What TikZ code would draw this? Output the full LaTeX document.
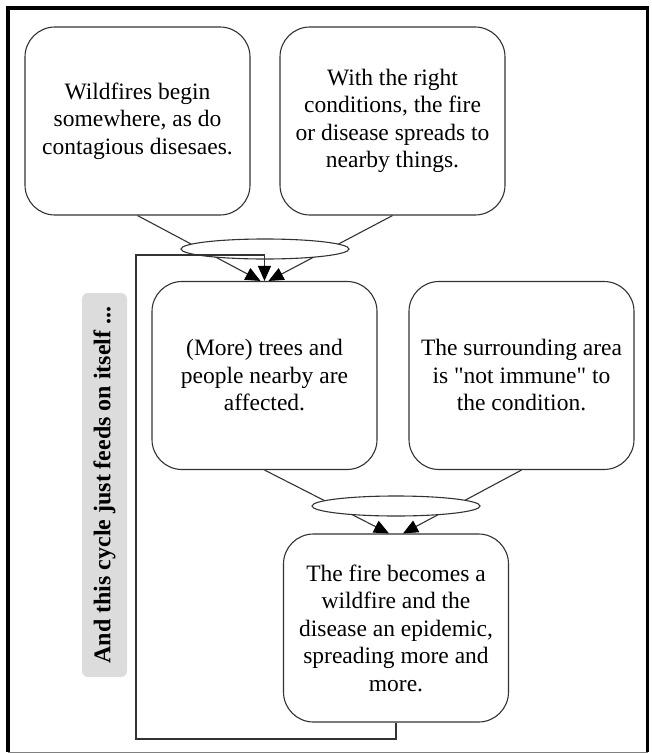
\documentclass[tikz,border=0pt]{standalone}
\usepackage{fontspec}
\setmainfont{Liberation Serif}[Ligatures=TeXOff]
\usetikzlibrary{arrows.meta,shapes.geometric}
\definecolor{edge}{HTML}{333333}
\definecolor{lblgray}{HTML}{DCDCDC}
\tikzset{
  box/.style={draw=edge, line width=1.1pt, rounded corners=30pt, fill=white,
    minimum width=225pt, minimum height=188pt, inner sep=0pt, align=center,
    font=\fontsize{23.5}{27.5}\selectfont},
  oval/.style={ellipse, draw=edge, line width=1.1pt, fill=white,
    minimum width=168pt, minimum height=20pt, inner sep=0pt},
  conn/.style={draw=edge, line width=1.1pt},
  arr/.style={conn, -{Triangle[length=15pt,width=13pt,color=black]}},
  lbl/.style={fill=lblgray, rounded corners=6pt, minimum width=384pt,
    minimum height=45pt, inner sep=0pt, rotate=90,
    font=\fontsize{24}{28}\selectfont\bfseries}
}
\begin{document}
\begin{tikzpicture}[x=1pt,y=-1pt]
\useasboundingbox (0,0) rectangle (651,754);
% frame
\draw[line width=3.5pt] (8,752) -- (8,8) -- (647.5,8) -- (647.5,752);
\draw[line width=1pt, draw=gray] (8,752) -- (647.5,752);

% boxes
\node[box] (A) at (137.5,121) {Wildfires begin\\somewhere, as do\\contagious disesaes.};
\node[box] (B) at (392.5,121) {With the right\\conditions, the fire\\or disease spreads to\\nearby things.};
\node[box] (C) at (264.5,375.5) {(More) trees and\\people nearby are\\affected.};
\node[box] (D) at (521.5,375.5) {The surrounding area\\is "not immune" to\\the condition.};
\node[box] (E) at (396,628) {The fire becomes a\\wildfire and the\\disease an epidemic,\\spreading more and\\more.};

% label
\node[lbl] (L) at (104.5,485) {And this cycle just feeds on itself ...};

% connectors
\draw[arr] (A.south) -- ([xshift=-4pt]C.north);
\draw[arr] (B.south) -- ([xshift=4pt]C.north);
\draw[arr] (C.south) -- ([xshift=-7pt]E.north);
\draw[arr] (D.south) -- ([xshift=7pt]E.north);

% ovals
\node[oval] (O1) at (265,249) {};
\node[oval] (O2) at (396,506) {};

% loop
\coordinate (p1) at (396,739);
\coordinate (p2) at (136,739);
\coordinate (p3) at (136,255);
\coordinate (p4) at (264.5,255);
\draw[arr] (E.south) -- (p1) -- (p2) -- (p3) -- (p4) -- (C.north);
\end{tikzpicture}
\end{document}
